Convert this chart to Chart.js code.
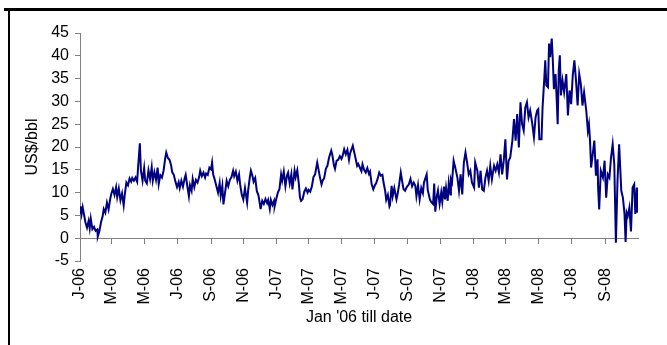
<!DOCTYPE html>
<html>
<head>
<meta charset="utf-8">
<script src="https://cdn.jsdelivr.net/npm/chart.js@4.4.1/dist/chart.umd.min.js"></script>
<style>
    body { margin: 0; background: #fff; }
    #moldura { position: relative; width: 667px; height: 345px; overflow: hidden; background: #fff; }
    .linha { position: absolute; background: #000; }
    #grafico { position: absolute; left: 0; top: 0; }
</style>
</head>
<body>
<div id="moldura">
    <div class="linha" style="left:4px;top:8px;width:663px;height:3px;"></div>
    <div class="linha" style="left:8px;top:8px;width:2px;height:337px;"></div>
    <canvas id="grafico" width="667" height="345"></canvas>
</div>
<script>
// dias contados a partir de 1 jan 2006
const dias = [
    0, 1, 3, 5, 7, 10, 13, 16, 18, 20, 23, 26, 29, 32, 33, 36, 39, 42, 44, 47,
    50, 53, 56, 58, 61, 64, 67, 69, 72, 75, 78, 81, 83, 86, 89, 92, 95, 97, 100, 103,
    106, 108, 111, 113, 116, 119, 121, 124, 127, 130, 133, 135, 138, 141, 144, 146, 149, 152, 155, 158,
    160, 163, 166, 169, 171,
    174, 177, 180, 183, 185, 188, 191, 194, 196, 199, 202, 204, 207, 209, 212, 215, 218, 221, 223, 226,
    229, 232, 234, 237, 240, 243, 245, 247, 250, 253, 256, 259, 261, 264, 266, 270, 272, 275, 278, 281,
    284, 286, 289, 292, 295, 297, 300, 303, 306, 310, 312, 315, 317, 320, 322, 325, 328, 331, 334, 335,
    338, 341, 344,
    347, 349, 352, 354, 357, 360, 361, 364, 367, 370, 373, 375, 378, 381, 384, 386, 389, 392, 394, 398,
    400, 403, 406, 408, 410, 413, 416, 419, 422, 424, 427, 430, 433, 436, 440, 442, 445, 448, 450, 453,
    456, 459, 462, 466, 468, 471, 473, 476, 479, 482, 485, 487, 490, 493, 496, 499, 501, 506, 508, 511,
    514, 516, 519,
    522, 524, 527, 530, 533, 536, 538, 541, 544, 547, 549, 552, 555, 558, 561, 563, 566, 568, 571, 574,
    575, 578, 580, 583, 587, 589, 592, 595, 598, 600, 603, 606, 610, 613, 616, 619, 622, 624, 627, 630,
    633, 636, 638, 643, 645, 649, 651, 655, 657, 659, 662, 664, 667, 670, 672, 675, 677, 679, 682, 684,
    687, 688, 690, 693,
    696, 700, 703, 706, 709, 712, 715, 718, 721, 724, 727, 731, 733, 737, 740, 743, 746, 749, 752, 755,
    758, 761, 764, 768, 771, 774, 777, 780, 783, 786, 789, 792, 795, 798, 802, 805, 808, 811, 814, 817,
    820, 823, 826, 829, 832, 835, 839, 842, 845, 848, 850, 852, 856, 858, 861, 863,
    865, 868, 870, 872, 875, 877, 879, 882, 884, 886, 888, 890, 892, 895, 898, 902, 905, 908, 911, 914,
    917, 920, 923, 926, 929, 932, 935, 939, 942, 944, 946, 948, 951, 954, 957, 960, 961, 963, 966, 970,
    973, 976, 979, 982, 985, 988, 991, 994, 997, 1000, 1004, 1007, 1010, 1012, 1014, 1016, 1019, 1022, 1025, 1028,
    1030, 1033, 1034
];

// US$/bbl
const spread = [
    5.5, 7.0, 5.3, 6.8, 5.5, 3.5, 2.3, 3.8, 2.2, 4.3, 2.0, 2.5, 1.6, 1.9, 0.4, 1.6, 3.5, 4.8, 6.4, 5.6,
    7.8, 6.3, 8.6, 9.7, 10.8, 9.5, 11.2, 9.0, 10.9, 8.3, 9.8, 7.2, 9.5, 12.2, 11.6, 13.1, 12.4, 13.2, 12.6, 13.3,
    12.4, 16.0, 20.8, 14.8, 12.6, 15.4, 12.6, 12.0, 14.9, 13.0, 15.6, 12.6, 14.5, 12.8, 15.5, 11.9, 13.8, 13.3, 14.8, 17.5,
    18.8, 17.6, 17.2, 16.0, 14.5,
    13.9, 12.4, 11.2, 12.3, 11.0, 12.6, 11.3, 13.1, 13.9, 11.5, 9.2, 11.6, 10.4, 13.0, 11.2, 12.8, 12.2, 13.4, 14.8, 13.6,
    14.4, 13.3, 14.2, 13.9, 15.5, 15.1, 16.6, 14.0, 12.8, 11.4, 10.0, 12.1, 9.3, 11.5, 7.4, 10.8, 12.6, 11.4, 12.8, 13.4,
    14.8, 13.6, 14.6, 12.6, 14.0, 11.8, 9.6, 8.5, 11.0, 7.8, 10.6, 13.4, 14.8, 13.6, 12.4, 13.2, 10.3, 9.4, 7.2, 6.4,
    8.2, 7.5, 8.6,
    7.7, 8.4, 6.4, 8.4, 7.3, 8.2, 7.0, 8.6, 10.0, 10.8, 14.0, 12.6, 14.6, 11.4, 13.8, 14.4, 12.0, 14.0, 10.7, 14.8,
    13.4, 14.9, 11.8, 8.9, 8.2, 8.6, 10.2, 10.9, 10.0, 10.6, 10.2, 11.3, 13.4, 14.0, 16.6, 15.3, 13.4, 11.8, 12.6, 13.2,
    15.2, 15.9, 17.7, 19.2, 18.3, 16.0, 15.2, 17.0, 17.2, 18.0, 17.4, 18.0, 19.5, 18.4, 19.4, 17.2, 18.6, 20.3, 19.2, 17.6,
    15.9, 16.3, 15.5,
    14.7, 16.2, 15.0, 14.4, 15.4, 14.1, 14.6, 11.8, 10.7, 11.6, 12.0, 13.0, 14.4, 13.7, 13.9, 12.2, 10.4, 8.4, 9.5, 7.0,
    7.3, 11.5, 9.2, 11.0, 8.5, 9.6, 11.8, 14.4, 12.2, 10.8, 10.4, 11.2, 11.8, 13.0, 11.4, 12.2, 11.5, 9.2, 11.6, 8.5,
    11.0, 9.9, 12.2, 14.0, 10.6, 8.5, 8.0, 7.5, 12.0, 5.8, 9.3, 10.5, 7.5, 10.0, 8.0, 11.3, 8.5, 11.0, 8.2, 12.1,
    9.6, 12.9, 12.2, 17.0,
    15.5, 13.3, 10.4, 14.0, 9.6, 16.6, 18.8, 16.6, 14.0, 14.8, 12.2, 11.1, 16.6, 14.8, 11.1, 14.8, 10.7, 10.4, 13.3, 14.8,
    12.6, 15.9, 12.9, 15.9, 14.8, 16.2, 14.4, 18.4, 14.0, 17.0, 21.7, 12.9, 17.0, 17.7, 21.4, 26.1, 21.4, 27.2, 19.9, 29.8,
    25.0, 23.6, 28.7, 29.8, 26.5, 28.0, 25.0, 22.1, 26.5, 28.0, 28.3, 21.7, 21.7, 28.7, 34.6, 39.0,
    33.5, 33.1, 42.7, 39.7, 43.8, 39.0, 32.7, 36.0, 30.9, 25.0, 36.8, 40.1, 31.3, 34.6, 32.0, 36.0, 26.9, 32.4, 29.4, 35.7,
    39.0, 34.6, 29.1, 36.0, 33.8, 29.1, 32.0, 28.0, 23.6, 25.0, 21.4, 15.5, 18.4, 21.4, 13.7, 17.3, 11.1, 6.3, 14.8, 13.3,
    17.0, 8.9, 14.0, 13.3, 17.7, 20.6, 16.2, -1.0, 12.6, 20.6, 10.4, 8.9, 5.3, -0.8, 5.6, 4.9, 6.7, 1.5, 11.1, 11.8,
    5.3, 11.1, 5.6
];

// primeiro dia de cada bimestre e o rotulo dele
const diasRotulos = [0, 59, 120, 181, 243, 304, 365, 424, 485, 546, 608, 669, 730, 790, 851, 912, 974];
const rotulosEixoX = ['J-06', 'M-06', 'M-06', 'J-06', 'S-06', 'N-06', 'J-07', 'M-07', 'M-07', 'J-07', 'S-07', 'N-07', 'J-08', 'M-08', 'M-08', 'J-08', 'S-08'];
const fimEixo = 1035;

const fonte = { family: "'Liberation Sans', Arial, sans-serif", size: 16 };
const cinza = '#808080';

Chart.defaults.font.family = fonte.family;
Chart.defaults.font.size = fonte.size;
Chart.defaults.color = '#000';

const marcarBimestres = eixo => {
    eixo.ticks = diasRotulos.map(d => ({ value: d }));
};

new Chart(document.getElementById('grafico').getContext('2d'), {
    type: 'line',
    data: {
        datasets: [{
            data: dias.map((d, i) => ({ x: d, y: spread[i] })),
            xAxisID: 'x',
            yAxisID: 'y',
            borderColor: '#000080',
            borderWidth: 2,
            pointRadius: 0,
            tension: 0,
            fill: false,
        }],
    },
    options: {
        responsive: false,
        animation: false,
        layout: { padding: { left: 0, top: 33, right: 29, bottom: 0 } },
        plugins: {
            legend: { display: false },
            tooltip: { enabled: false },
        },
        scales: {
            x: {
                type: 'linear',
                min: 0,
                max: fimEixo,
                afterBuildTicks: marcarBimestres,
                afterFit: eixo => { eixo.height = 84; },
                grid: { display: false, drawTicks: false },
                border: { display: false },
                ticks: {
                    autoSkip: false,
                    minRotation: 90,
                    maxRotation: 90,
                    padding: 7,
                    font: fonte,
                    callback: (valor, i) => rotulosEixoX[i],
                },
                title: {
                    display: true,
                    text: "Jan '06 till date",
                    font: fonte,
                    padding: { top: 0, bottom: 18 },
                },
            },
            // eixo de datas cruzando no zero, so com as marcas
            xZero: {
                axis: 'x',
                type: 'linear',
                min: 0,
                max: fimEixo,
                position: { y: 0 },
                afterBuildTicks: marcarBimestres,
                ticks: { display: false },
                grid: { drawOnChartArea: false, drawTicks: true, tickLength: 5, color: cinza },
                border: { color: cinza, width: 1 },
            },
            y: {
                min: -5,
                max: 45,
                afterFit: eixo => { eixo.width = 80; },
                ticks: { stepSize: 5, padding: 6, font: fonte },
                grid: {
                    drawOnChartArea: true,
                    drawTicks: true,
                    tickLength: 5,
                    tickColor: cinza,
                    color: ctx => (ctx.tick && ctx.tick.value === 0) ? cinza : 'rgba(0,0,0,0)',
                },
                border: { color: cinza, width: 1 },
                title: {
                    display: true,
                    text: 'US$/bbl',
                    font: fonte,
                    padding: { top: 23, bottom: 0 },
                },
            },
        },
    },
});
</script>
</body>
</html>
